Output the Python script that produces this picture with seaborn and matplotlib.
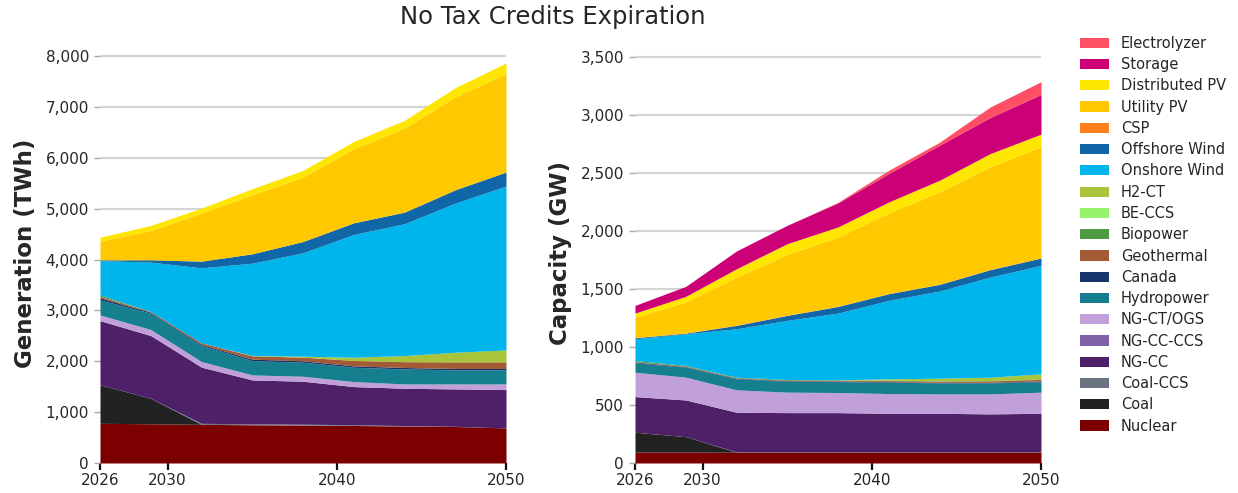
import numpy as np
import matplotlib
matplotlib.use("Agg")
import matplotlib.pyplot as plt
import seaborn as sns
from matplotlib.patches import Patch

years = [2026, 2029, 2032, 2035, 2038, 2041, 2044, 2047, 2050]

techs = ["Nuclear", "Coal", "Coal-CCS", "NG-CC", "NG-CC-CCS", "NG-CT/OGS",
         "Hydropower", "Canada", "Geothermal", "Biopower", "BE-CCS", "H2-CT",
         "Onshore Wind", "Offshore Wind", "CSP", "Utility PV", "Distributed PV",
         "Storage", "Electrolyzer"]

colors = ["#7d0000", "#222222", "#6b7280", "#4e2068", "#8060a8", "#c19fd9",
          "#167f8f", "#16356b", "#a35a36", "#4f9a42", "#96f36a", "#a8c43a",
          "#00b5ec", "#1066a6", "#ff7f1e", "#ffc800", "#ffe600",
          "#cc0077", "#ff4f64"]

# Generation (TWh)
gen_nuclear = [780, 772, 760, 752, 745, 738, 728, 718, 690]
gen_coal = [760, 500, 0, 0, 0, 0, 0, 0, 0]
gen_coal_ccs = [0, 0, 20, 20, 18, 15, 8, 3, 0]
gen_ngcc = [1260, 1235, 1105, 862, 845, 750, 734, 736, 754]
gen_ngcc_ccs = [0, 0, 0, 0, 0, 0, 0, 0, 0]
gen_ngct = [112, 118, 110, 98, 98, 98, 85, 98, 111]
gen_hydro = [296, 321, 315, 282, 276, 282, 295, 276, 276]
gen_canada = [40, 20, 22, 28, 28, 28, 28, 28, 28]
gen_geo = [28, 13, 30, 65, 72, 105, 115, 130, 130]
gen_bio = [30, 0, 0, 0, 0, 0, 0, 0, 0]
gen_beccs = [0, 0, 0, 0, 0, 0, 0, 0, 0]
gen_h2ct = [0, 0, 0, 6, 18, 64, 120, 189, 235]
gen_onshore = [676, 971, 1477, 1817, 2034, 2415, 2592, 2933, 3222]
gen_offshore = [13, 46, 131, 184, 223, 229, 229, 263, 276]
gen_csp = [0, 0, 0, 0, 0, 0, 0, 0, 0]
gen_upv = [368, 577, 945, 1162, 1266, 1457, 1654, 1824, 1935]
gen_dpv = [78, 99, 98, 118, 132, 144, 151, 184, 210]
gen_storage = [0, 0, 0, 0, 0, 0, 0, 0, 0]
gen_electrolyzer = [0, 0, 0, 0, 0, 0, 0, 0, 0]

# Capacity (GW)
cap_nuclear = [94, 94, 93, 93, 93, 93, 93, 93, 93]
cap_coal = [171, 133, 0, 0, 0, 0, 0, 0, 0]
cap_coal_ccs = [0, 0, 2, 2, 2, 2, 2, 2, 2]
cap_ngcc = [307, 316, 342, 339, 339, 333, 333, 328, 333]
cap_ngcc_ccs = [0, 0, 0, 0, 0, 0, 0, 0, 0]
cap_ngct = [210, 196, 193, 176, 173, 170, 167, 172, 182]
cap_hydro = [81, 86, 95, 94, 94, 98, 95, 95, 91]
cap_canada = [6, 5, 5, 5, 5, 5, 5, 5, 5]
cap_geo = [4, 4, 4, 5, 5, 8, 10, 12, 14]
cap_bio = [10, 6, 5, 5, 4, 4, 3, 3, 3]
cap_beccs = [0, 0, 0, 0, 0, 0, 0, 0, 0]
cap_h2ct = [0, 0, 0, 0, 1, 12, 22, 29, 45]
cap_onshore = [187, 273, 417, 509, 575, 675, 751, 862, 934]
cap_offshore = [8, 5, 29, 43, 57, 58, 57, 64, 63]
cap_csp = [2, 2, 2, 2, 2, 2, 2, 2, 2]
cap_upv = [176, 266, 414, 524, 596, 693, 794, 883, 956]
cap_dpv = [35, 49, 72, 92, 87, 95, 101, 115, 109]
cap_storage = [66, 86, 153, 158, 207, 245, 302, 311, 342]
cap_electrolyzer = [0, 0, 0, 0, 5, 28, 25, 90, 110]

gen = [gen_nuclear, gen_coal, gen_coal_ccs, gen_ngcc, gen_ngcc_ccs, gen_ngct,
       gen_hydro, gen_canada, gen_geo, gen_bio, gen_beccs, gen_h2ct,
       gen_onshore, gen_offshore, gen_csp, gen_upv, gen_dpv, gen_storage,
       gen_electrolyzer]
cap = [cap_nuclear, cap_coal, cap_coal_ccs, cap_ngcc, cap_ngcc_ccs, cap_ngct,
       cap_hydro, cap_canada, cap_geo, cap_bio, cap_beccs, cap_h2ct,
       cap_onshore, cap_offshore, cap_csp, cap_upv, cap_dpv, cap_storage,
       cap_electrolyzer]

sns.set_theme(style="white")
plt.rcParams['font.family'] = ['DejaVu Sans']
palette = sns.color_palette(colors)

W, H = 1238, 493
fig = plt.figure(figsize=(W / 100, H / 100), dpi=100)

def make_ax(x0, x1, y0, y1):
    return fig.add_axes([x0 / W, 1 - y1 / H, (x1 - x0) / W, (y1 - y0) / H])

ax1 = make_ax(100, 506, 43, 463)
ax2 = make_ax(635, 1041, 43, 463)

for ax, data, ylab, ymax, step in [(ax1, gen, "Generation (TWh)", 8260, 1000),
                                   (ax2, cap, "Capacity (GW)", 3617, 500)]:
    ax.stackplot(years, np.array(data, dtype=float), colors=palette,
                 linewidth=0, zorder=2)
    ax.set_xlim(2026, 2050)
    ax.set_ylim(0, ymax)
    ax.set_xticks([2026, 2030, 2040, 2050])
    ticks = np.arange(0, ymax, step)
    ax.set_yticks(ticks)
    ax.set_yticklabels([f"{int(t):,}" for t in ticks])
    ax.yaxis.grid(True, color="#d4d4d4", linewidth=1.6, zorder=0)
    ax.xaxis.grid(False)
    for s in ax.spines.values():
        s.set_visible(False)
    ax.tick_params(axis="x", which="major", length=5, width=1.6,
                   color="#111111", labelsize=11, pad=2, bottom=True)
    ax.tick_params(axis="y", which="major", length=4, width=1,
                   color="#aaaaaa", labelsize=11, pad=4, left=True)
    ax.set_ylabel(ylab, fontsize=16.5, fontweight="bold", labelpad=6)
    ax.set_axisbelow(True)

fig.suptitle("No Tax Credits Expiration", x=553 / W, y=1 - 5 / H,
             fontsize=17.5, va="top")

handles = [Patch(facecolor=c, edgecolor="none") for c in colors][::-1]
labels = techs[::-1]
fig.legend(handles, labels, loc="upper left",
           bbox_to_anchor=(1074 / W, 1 - 30 / H), frameon=False,
           fontsize=10.5, handlelength=2.0, handleheight=0.7,
           labelspacing=0.43, handletextpad=0.8, borderaxespad=0)

fig.savefig("out.png", dpi=100)
